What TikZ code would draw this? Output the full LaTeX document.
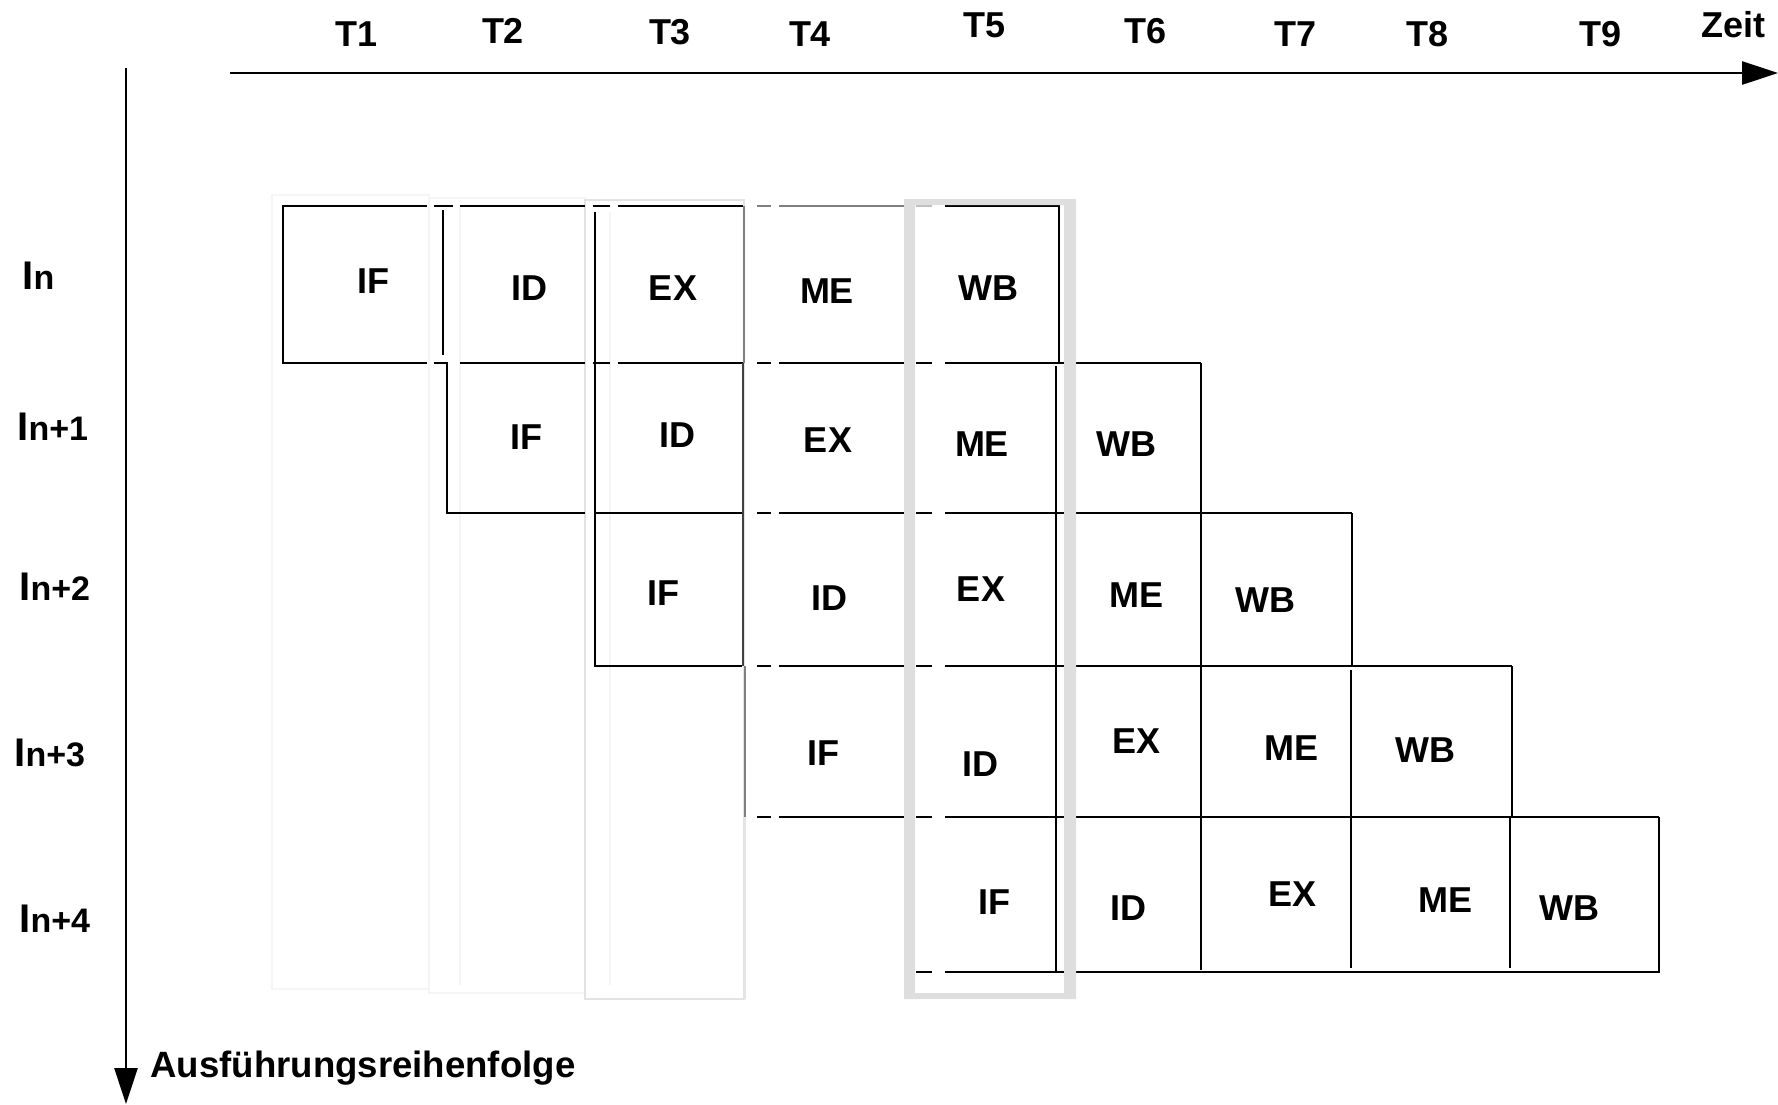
\documentclass[tikz,border=0pt]{standalone}
\usepackage{fontspec}
\setmainfont{Liberation Sans}
\usetikzlibrary{arrows.meta}
\newcommand\rowtxt[1]{{\fontsize{20}{20}\selectfont I}{\fontsize{17}{17}\selectfont #1}}
\begin{document}
\begin{tikzpicture}[x=0.5pt,y=-0.5pt,
  gl/.style={line width=1.3pt, black},
  thingl/.style={line width=0.7pt, black!75},
  thingray/.style={line width=0.6pt, black!50},
  faint/.style={line width=0.6pt, black!4},
  faintb/.style={line width=0.8pt, black!11},
  band/.style={fill=black!13, even odd rule},
  axisline/.style={line width=1.4pt, -{Triangle[length=18pt,width=11.5pt]}},
  lbl/.style={inner sep=0pt, anchor=base, font=\bfseries\fontsize{18}{18}\selectfont},
  rowlbl/.style={inner sep=0pt, anchor=base west, font=\bfseries},
]
\useasboundingbox (0,0) rectangle (1778,1104);

% faint column frames
\draw[faint] (272,195) rectangle (429,989);
\draw[faint] (429,198) rectangle (585,993);
\draw[faint] (460,206) -- (460,985);
\draw[faint] (610,212) -- (610,985);
\draw[faintb] (585,200) rectangle (744,999);

% axes
\coordinate (hA) at (230,73);
\coordinate (hB) at (1778,73);
\coordinate (vA) at (126,68);
\coordinate (vB) at (126,1104);
\draw[axisline] (hA) -- (hB);
\draw[axisline] (vA) -- (vB);

% ---------- row 1 ----------
\draw[gl] (427,206) -- (283,206) -- (283,363) -- (427,363);
\foreach \y in {206,363}{
  \draw[gl] (460,\y) -- (585,\y);
  \draw[gl] (593,\y) -- (610,\y);
  \draw[gl] (618,\y) -- (743,\y);
}
\draw[gl] (434,206) -- (453,206);
\draw[gl] (443,210) -- (443,355);
\draw[thingray] (757,206) -- (771,206);
\draw[thingray] (779,206) -- (904,206);
\draw[line width=0.6pt, black!25] (916,206) -- (932,206);
\draw[gl] (945,206) -- (1059,206) -- (1059,363);

% column line at T4/T5 boundary
\draw[thingray] (744,206) -- (744,363);
\draw[thingl] (743,363) -- (743,666);
\draw[thingray] (745,666) -- (745,817);
\draw[line width=0.6pt, black!10] (745,817) -- (745,999);

% ---------- row 2 ----------
\draw[gl] (434,363) -- (447,363) -- (447,513) -- (585,513);
\foreach \y/\e in {363/1201,513/1352,666/1512,817/1659}{
  \draw[gl] (757,\y) -- (771,\y);
  \draw[gl] (779,\y) -- (904,\y);
  \draw[gl] (916,\y) -- (932,\y);
  \draw[gl] (945,\y) -- (\e,\y);
}
\draw[gl] (1201,363) -- (1201,970);
\draw[gl] (1056,366) -- (1056,972);

% ---------- row 3 ----------
\draw[gl] (595,212) -- (595,666) -- (742,666);
\draw[gl] (596,513) -- (742,513);
\draw[gl] (1352,513) -- (1352,666);

% ---------- row 4 ----------
\draw[gl] (1512,666) -- (1512,817);
\draw[gl] (1351,670) -- (1351,968);

% ---------- row 5 ----------
\draw[gl] (916,972) -- (932,972);
\draw[gl] (945,972) -- (1659,972) -- (1659,817);
\draw[gl] (1510,817) -- (1510,968);

% highlight band (T5)
\fill[band] (904,199) rectangle (1076,999) (915,205) rectangle (1064,993);

% time labels
\node[lbl] (t1) at (357,46) {T1};
\node[lbl] (t2) at (503,43) {T2};
\node[lbl] (t3) at (670,44) {T3};
\node[lbl] (t4) at (810,46) {T4};
\node[lbl] (t5) at (984,37) {T5};
\node[lbl] (t6) at (1145,43) {T6};
\node[lbl] (t7) at (1295,46) {T7};
\node[lbl] (t8) at (1427,46) {T8};
\node[lbl] (t9) at (1600,46) {T9};
\node[lbl] (zeit) at (1733,37) {Zeit};

% row labels
\node[rowlbl] (r0) at (22,289) {\rowtxt{n}};
\node[rowlbl] (r1) at (17,440) {\rowtxt{n+1}};
\node[rowlbl] (r2) at (19,600) {\rowtxt{n+2}};
\node[rowlbl] (r3) at (14,766) {\rowtxt{n+3}};
\node[rowlbl] (r4) at (19,932) {\rowtxt{n+4}};

\node[rowlbl, font=\bfseries\fontsize{18.3}{18.3}\selectfont] (order) at (150,1077) {Ausführungsreihenfolge};

% stage labels
\node[lbl] (a1) at (373,293) {IF};
\node[lbl] (a2) at (529,300) {ID};
\node[lbl] (a3) at (673,300) {EX};
\node[lbl] (a4) at (827,303) {ME};
\node[lbl] (a5) at (988,300) {WB};

\node[lbl] (b1) at (526,449) {IF};
\node[lbl] (b2) at (677,447) {ID};
\node[lbl] (b3) at (828,452) {EX};
\node[lbl] (b4) at (982,456) {ME};
\node[lbl] (b5) at (1126,456) {WB};

\node[lbl] (c1) at (663,605) {IF};
\node[lbl] (c2) at (829,610) {ID};
\node[lbl] (c3) at (981,601) {EX};
\node[lbl] (c4) at (1136,607) {ME};
\node[lbl] (c5) at (1265,612) {WB};

\node[lbl] (d1) at (823,765) {IF};
\node[lbl] (d2) at (980,776) {ID};
\node[lbl] (d3) at (1136,753) {EX};
\node[lbl] (d4) at (1291,760) {ME};
\node[lbl] (d5) at (1425,762) {WB};

\node[lbl] (e1) at (994,914) {IF};
\node[lbl] (e2) at (1128,920) {ID};
\node[lbl] (e3) at (1292,906) {EX};
\node[lbl] (e4) at (1445,912) {ME};
\node[lbl] (e5) at (1569,920) {WB};
\end{tikzpicture}
\end{document}
